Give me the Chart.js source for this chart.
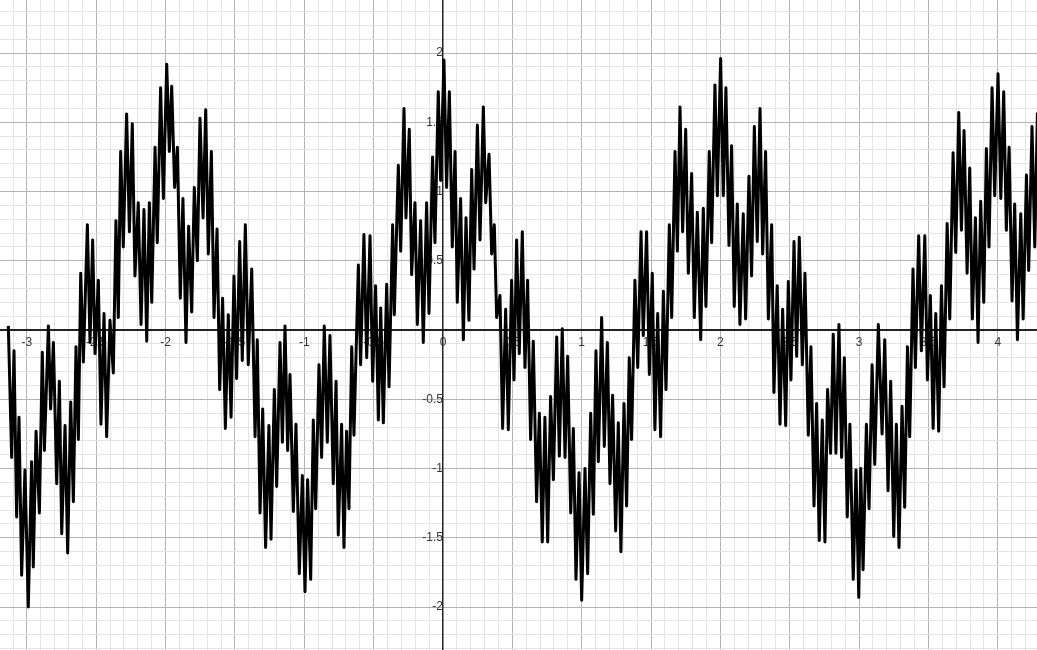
<!DOCTYPE html>
<html>
<head>
<meta charset="utf-8">
<title>Weierstrass-like curve</title>
<script src="https://cdn.jsdelivr.net/npm/chart.js@4.4.1/dist/chart.umd.min.js"></script>
<style>
  html, body { margin: 0; padding: 0; background: #fff; }
  #wrap { width: 1037px; height: 650px; position: relative; }
</style>
</head>
<body>
<div id="wrap"><canvas id="chart"></canvas></div>
<script>
// values, peak / trough by peak / trough
const xValues = [
  -3.134, -3.110, -3.093, -3.074, -3.057, -3.038, -3.014, -2.990, -2.966, -2.954,
  -2.934, -2.910, -2.889, -2.874, -2.845, -2.829, -2.809, -2.785, -2.766, -2.749,
  -2.725, -2.706, -2.684, -2.665, -2.646, -2.629, -2.612, -2.593, -2.564, -2.545,
  -2.526, -2.509, -2.485, -2.466, -2.444, -2.425, -2.401, -2.377, -2.358, -2.341,
  -2.324, -2.305, -2.281, -2.261, -2.240, -2.221, -2.197, -2.177, -2.156, -2.136,
  -2.117, -2.100, -2.076, -2.060, -2.036, -2.016, -1.992, -1.973,
  -1.956, -1.935, -1.915, -1.894, -1.875, -1.853, -1.834, -1.812, -1.793, -1.771,
  -1.752, -1.730, -1.711, -1.692, -1.670, -1.651, -1.629, -1.610, -1.589, -1.569,
  -1.548, -1.528, -1.507, -1.488, -1.466, -1.447, -1.425, -1.404, -1.379, -1.355,
  -1.339, -1.319, -1.300, -1.279, -1.255, -1.240, -1.216, -1.199, -1.175, -1.158,
  -1.139, -1.120, -1.103, -1.079, -1.060, -1.036, -1.014, -0.995, -0.976, -0.954,
  -0.935, -0.918, -0.894, -0.875, -0.856, -0.834, -0.815, -0.791, -0.771, -0.755,
  -0.731, -0.714, -0.695, -0.678, -0.658, -0.642, -0.610, -0.594, -0.570, -0.550,
  -0.526, -0.507, -0.486, -0.466, -0.449, -0.430, -0.406, -0.389, -0.363, -0.351,
  -0.322, -0.305, -0.281, -0.267, -0.243, -0.226, -0.202, -0.185, -0.161, -0.142,
  -0.118, -0.101, -0.075, -0.058, -0.034, -0.017, 0.007, 0.026, 0.046, 0.067,
  0.087, 0.103, 0.127, 0.147, 0.166, 0.187, 0.207, 0.224, 0.248, 0.267,
  0.291, 0.308, 0.332, 0.351, 0.370, 0.387, 0.411, 0.430, 0.452, 0.471,
  0.495, 0.512, 0.531, 0.550, 0.572, 0.591, 0.610, 0.632, 0.651, 0.675,
  0.695, 0.716, 0.735, 0.755, 0.776, 0.796, 0.820, 0.839, 0.860, 0.880,
  0.899, 0.921, 0.940, 0.959, 0.981, 1.000, 1.024, 1.043, 1.065, 1.084,
  1.103, 1.120, 1.144, 1.163, 1.185, 1.204, 1.223, 1.245, 1.264, 1.283,
  1.305, 1.324, 1.343, 1.360, 1.384, 1.404, 1.428, 1.444, 1.468, 1.488,
  1.509, 1.528, 1.548, 1.569, 1.589, 1.608, 1.632, 1.649, 1.673, 1.690,
  1.709, 1.728, 1.750, 1.769, 1.793, 1.812, 1.834, 1.858, 1.877, 1.896,
  1.920, 1.937, 1.961, 1.978, 2.002, 2.021, 2.040, 2.062, 2.081, 2.100,
  2.122, 2.141, 2.165, 2.182, 2.206, 2.225, 2.245, 2.266, 2.286, 2.305,
  2.326, 2.346, 2.370, 2.386, 2.410, 2.430, 2.449, 2.471, 2.490, 2.509,
  2.531, 2.550, 2.569, 2.591, 2.610, 2.634, 2.653, 2.675, 2.694, 2.713,
  2.735, 2.754, 2.773, 2.795, 2.814, 2.833, 2.855, 2.874, 2.894, 2.915,
  2.934, 2.958, 2.978, 2.998,
  3.012, 3.029, 3.053, 3.072, 3.094, 3.113, 3.139, 3.166, 3.185, 3.209,
  3.228, 3.250, 3.269, 3.288, 3.310, 3.329, 3.349, 3.365, 3.389, 3.406,
  3.430, 3.449, 3.474, 3.493, 3.514, 3.534, 3.553, 3.574, 3.594, 3.613,
  3.635, 3.654, 3.678, 3.697, 3.719, 3.738, 3.757, 3.779, 3.798, 3.817,
  3.839, 3.858, 3.877, 3.899, 3.918, 3.937, 3.959, 3.978, 4.002, 4.022,
  4.043, 4.062, 4.082, 4.103, 4.122, 4.142, 4.166, 4.183, 4.207, 4.223,
  4.247, 4.267, 4.286
];

const yValues = [
  0.03, -0.92, -0.15, -1.35, -0.63, -1.77, -1.01, -2.00, -0.95, -1.71,
  -0.73, -1.32, -0.16, -0.87, 0.03, -0.57, -0.09, -1.11, -0.37, -1.47,
  -0.69, -1.61, -0.52, -1.24, -0.12, -0.79, 0.41, -0.23, 0.76, -0.09,
  0.65, -0.17, 0.36, -0.68, 0.12, -0.77, 0.07, -0.31, 0.79, 0.09,
  1.29, 0.60, 1.56, 0.71, 1.49, 0.39, 0.92, 0.04, 0.87, -0.08,
  0.92, 0.20, 1.32, 0.63, 1.75, 0.95, 1.92, 1.29,
  1.76, 1.03, 1.32, 0.23, 0.95, -0.09, 0.75, 0.13, 1.03, 0.50,
  1.53, 0.81, 1.59, 0.55, 1.29, 0.09, 0.73, -0.43, 0.23, -0.71,
  0.11, -0.63, 0.39, -0.35, 0.64, -0.22, 0.76, -0.25, 0.44, -0.77,
  -0.07, -1.32, -0.57, -1.57, -0.69, -1.51, -0.43, -1.13, -0.09, -0.81,
  0.03, -0.87, -0.32, -1.31, -0.68, -1.76, -1.05, -1.89, -1.08, -1.80,
  -0.65, -1.29, -0.25, -0.92, 0.03, -0.81, -0.04, -1.11, -0.37, -1.48,
  -0.68, -1.57, -0.73, -1.29, -0.12, -0.76, 0.47, -0.25, 0.69, -0.20,
  0.68, -0.37, 0.32, -0.65, 0.16, -0.67, 0.33, -0.41, 0.76, 0.11,
  1.19, 0.57, 1.60, 0.81, 1.45, 0.40, 0.92, 0.04, 0.79, -0.09,
  0.92, 0.12, 1.25, 0.63, 1.72, 1.08, 1.95, 1.03, 1.72, 0.60,
  1.29, 0.20, 0.95, -0.07, 0.81, 0.07, 1.16, 0.44, 1.48, 0.65,
  1.61, 0.92, 1.27, 0.55, 0.76, 0.09, 0.25, -0.71, 0.15, -0.72,
  0.36, -0.36, 0.65, -0.17, 0.71, -0.27, 0.36, -0.79, -0.08, -1.24,
  -0.60, -1.53, -0.63, -1.53, -0.48, -1.08, -0.05, -0.91, 0.01, -0.92,
  -0.19, -1.32, -0.71, -1.80, -1.03, -1.95, -1.00, -1.76, -0.60, -1.33,
  -0.15, -0.95, 0.09, -0.84, -0.09, -1.11, -0.47, -1.45, -0.67, -1.60,
  -0.53, -1.27, -0.20, -0.79, 0.36, -0.27, 0.71, -0.04, 0.71, -0.32,
  0.41, -0.72, 0.12, -0.77, 0.28, -0.43, 0.76, 0.09, 1.29, 0.57,
  1.61, 0.71, 1.45, 0.41, 1.13, 0.09, 0.85, -0.07, 0.88, 0.17,
  1.29, 0.63, 1.77, 0.97, 1.96, 0.97, 1.75, 0.61, 1.33, 0.17,
  0.91, 0.04, 0.84, 0.08, 1.11, 0.39, 1.47, 0.64, 1.60, 0.55,
  1.29, 0.08, 0.76, -0.45, 0.32, -0.68, 0.15, -0.69, 0.35, -0.36,
  0.64, -0.19, 0.67, -0.25, 0.41, -0.76, -0.12, -1.27, -0.53, -1.52,
  -0.65, -1.53, -0.43, -0.89, -0.03, -0.89, 0.04, -0.92, -0.20, -1.35,
  -0.68, -1.80, -1.01, -1.93,
  -1.00, -1.73, -0.68, -1.29, -0.25, -0.97, 0.04, -0.75, -0.07, -1.16,
  -0.37, -1.49, -0.68, -1.57, -0.55, -1.28, -0.12, -0.77, 0.44, -0.27,
  0.68, -0.15, 0.68, -0.36, 0.25, -0.71, 0.12, -0.73, 0.32, -0.41,
  0.77, 0.08, 1.28, 0.56, 1.57, 0.72, 1.44, 0.41, 1.17, 0.08,
  0.81, -0.09, 0.93, 0.20, 1.31, 0.60, 1.75, 0.97, 1.85, 0.95,
  1.72, 0.72, 1.32, 0.21, 0.91, -0.07, 0.84, 0.08, 1.12, 0.43,
  1.47, 0.60, 1.57
];

const xRange = [-3.194, 4.283];
const yRange = [-2.310, 2.383];
const minorStep = 0.1;
const majorStep = 0.5;

const AXIS = '#222222';
const MAJOR = '#b4b4b4';
const MINOR = '#e4e4e4';

function isMajor(v) {
  return Math.abs(Math.round(v / majorStep) * majorStep - v) < 1e-6;
}

function fmt(v) {
  return String(Math.round(v * 10) / 10);
}

function gridColor(ctx) {
  const v = ctx.tick ? ctx.tick.value : null;
  if (v === null) return MINOR;
  if (Math.abs(v) < 1e-6) return AXIS;
  return isMajor(v) ? MAJOR : MINOR;
}

// axes sit inside the plot, so drop the label overflow padding
function noPadding(scale) {
  scale.paddingTop = 0;
  scale.paddingBottom = 0;
  scale.paddingLeft = 0;
  scale.paddingRight = 0;
}

const tickFont = { family: "'Liberation Sans', Arial, sans-serif", size: 12 };

const points = xValues.map((x, i) => ({ x: x, y: yValues[i] }));

new Chart(document.getElementById('chart'), {
  type: 'line',
  data: {
    datasets: [{
      data: points,
      borderColor: '#000000',
      borderWidth: 3,
      borderJoinStyle: 'round',
      pointRadius: 0,
      tension: 0,
      fill: false
    }]
  },
  options: {
    responsive: true,
    maintainAspectRatio: false,
    animation: false,
    layout: { padding: 0 },
    plugins: { legend: { display: false }, tooltip: { enabled: false } },
    scales: {
      x: {
        type: 'linear',
        position: { y: 0 },
        min: xRange[0],
        max: xRange[1],
        afterFit: noPadding,
        border: { color: AXIS, width: 1.5 },
        grid: { color: gridColor, lineWidth: 1, drawTicks: false },
        ticks: {
          stepSize: minorStep,
          includeBounds: false,
          autoSkip: false,
          maxRotation: 0,
          padding: 5,
          color: '#333333',
          font: tickFont,
          callback: (v) => isMajor(v) ? fmt(v) : ''
        }
      },
      y: {
        type: 'linear',
        position: { x: 0 },
        min: yRange[0],
        max: yRange[1],
        afterFit: noPadding,
        border: { color: AXIS, width: 1.5 },
        grid: { color: gridColor, lineWidth: 1, drawTicks: false },
        ticks: {
          stepSize: minorStep,
          includeBounds: false,
          autoSkip: false,
          padding: 5,
          color: '#333333',
          font: tickFont,
          callback: (v) => (isMajor(v) && Math.abs(v) > 1e-6) ? fmt(v) : ''
        }
      }
    }
  }
});
</script>
</body>
</html>
